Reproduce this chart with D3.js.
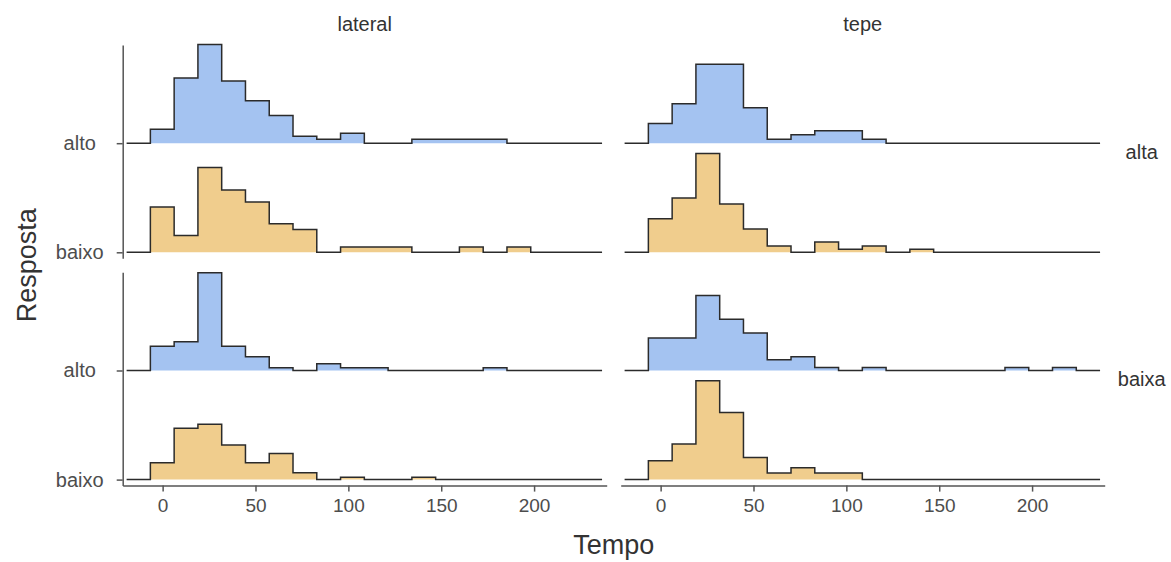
<!DOCTYPE html>
<html>
<head>
<meta charset="utf-8">
<script src="https://cdn.jsdelivr.net/npm/d3@7"></script>
<style>
  body { margin: 0; background: #fff; }
  text { font-family: "Liberation Sans", Arial, sans-serif; }
</style>
</head>
<body>
<div id="chart"></div>
<script>
  // facets and groups
  const colFacets = ["lateral", "tepe"];
  const rowFacets = ["alta", "baixa"];
  const respostas = ["baixo", "alto"];   // bottom to top inside a panel
  const xTicks = [0, 50, 100, 150, 200];

  // histogram bins (Tempo)
  const binStart = -6.6;
  const binWidth = 12.8;

  // relative bin heights (max = 1), 19 bins from binStart
  const lateralAltaAlto   = [0.14, 0.66, 1.00, 0.63, 0.43, 0.28, 0.07, 0.04, 0.10, 0, 0, 0.04, 0.04, 0.04, 0.04, 0, 0, 0, 0];
  const lateralAltaBaixo  = [0.46, 0.17, 0.86, 0.63, 0.51, 0.29, 0.23, 0, 0.054, 0.054, 0.054, 0, 0, 0.054, 0, 0.054, 0, 0, 0];
  const tepeAltaAlto      = [0.20, 0.40, 0.80, 0.80, 0.36, 0.04, 0.085, 0.125, 0.125, 0.04, 0, 0, 0, 0, 0, 0, 0, 0, 0];
  const tepeAltaBaixo     = [0.34, 0.55, 1.00, 0.49, 0.235, 0.065, 0, 0.105, 0.03, 0.065, 0, 0.03, 0, 0, 0, 0, 0, 0, 0];
  const lateralBaixaAlto  = [0.245, 0.29, 0.99, 0.245, 0.14, 0.028, 0, 0.068, 0.028, 0.028, 0, 0, 0, 0, 0.028, 0, 0, 0, 0];
  const lateralBaixaBaixo = [0.17, 0.52, 0.56, 0.35, 0.17, 0.265, 0.07, 0, 0.023, 0, 0, 0.023, 0, 0, 0, 0, 0, 0, 0];
  const tepeBaixaAlto     = [0.33, 0.33, 0.76, 0.52, 0.38, 0.11, 0.14, 0.03, 0, 0.03, 0, 0, 0, 0, 0, 0.03, 0, 0.03, 0];
  const tepeBaixaBaixo    = [0.19, 0.36, 1.00, 0.68, 0.225, 0.068, 0.12, 0.068, 0.068, 0, 0, 0, 0, 0, 0, 0, 0, 0, 0];

  const panels = {
    "lateral|alta":  { alto: lateralAltaAlto,  baixo: lateralAltaBaixo },
    "tepe|alta":     { alto: tepeAltaAlto,     baixo: tepeAltaBaixo },
    "lateral|baixa": { alto: lateralBaixaAlto, baixo: lateralBaixaBaixo },
    "tepe|baixa":    { alto: tepeBaixaAlto,    baixo: tepeBaixaBaixo }
  };

  const fills = { alto: "#a4c3f1", baixo: "#f0cd8d" };

  const W = 1171, H = 562;
  const panelLeft = 122.7, panelTop = 45;
  const pw = 484, ph = 213.3, gap = 14;
  const ridgeScale = 0.905;

  const svg = d3.select("#chart")
    .append("svg")
    .attr("width", W)
    .attr("height", H);

  const x = d3.scaleLinear().domain([-21.5, 239.1]).range([0, pw]);
  const y = d3.scaleLinear().domain([0.945, 2.90]).range([ph, 0]);
  const yPos = d3.scalePoint().domain(respostas).range([1, 2]);

  function stepPoints(h) {
    let pts = [[binStart - binWidth, 0], [binStart, 0]];
    h.forEach((v, i) => {
      pts.push([binStart + i * binWidth, v]);
      pts.push([binStart + (i + 1) * binWidth, v]);
    });
    return pts;
  }

  colFacets.forEach((cf, ci) => {
    rowFacets.forEach((rf, ri) => {
      const g = svg.append("g")
        .attr("transform", `translate(${panelLeft + ci * (pw + gap)},${panelTop + ri * (ph + gap)})`);
      const data = panels[cf + "|" + rf];

      // draw top ridge first so lower ridge sits over it
      ["alto", "baixo"].forEach(r => {
        const base = yPos(r);
        const pts = stepPoints(data[r]);
        const area = d3.area()
          .x(d => x(d[0]))
          .y0(y(base))
          .y1(d => y(base + d[1] * ridgeScale));
        const line = d3.line()
          .x(d => x(d[0]))
          .y(d => y(base + d[1] * ridgeScale));
        g.append("path")
          .attr("d", area(pts))
          .attr("fill", fills[r])
          .attr("stroke", "none");
        g.append("path")
          .attr("d", line(pts))
          .attr("fill", "none")
          .attr("stroke", "#2b2b2b")
          .attr("stroke-width", 1.5);
      });

      // y axis on left column
      if (ci === 0) {
        const ya = g.append("g")
          .call(d3.axisLeft(y).tickValues([1, 2]).tickFormat(d => respostas[d - 1]).tickSize(6).tickSizeOuter(0));
        ya.select(".domain").attr("stroke", "#555").attr("stroke-width", 1.5);
        ya.selectAll(".tick line").attr("stroke", "#555").attr("stroke-width", 1.5);
        ya.selectAll(".tick text")
          .attr("x", -43)
          .attr("text-anchor", "middle")
          .attr("fill", "#4d4d4d")
          .style("font-size", "20px");
      }

      // x axis on bottom row
      if (ri === rowFacets.length - 1) {
        const xa = g.append("g")
          .attr("transform", `translate(0,${ph})`)
          .call(d3.axisBottom(x).tickValues(xTicks).tickSize(6).tickSizeOuter(0));
        xa.select(".domain").attr("stroke", "#555").attr("stroke-width", 1.5);
        xa.selectAll(".tick line").attr("stroke", "#555").attr("stroke-width", 1.5);
        xa.selectAll(".tick text")
          .attr("y", 13)
          .attr("fill", "#4d4d4d")
          .style("font-size", "19px");
      }

      // strip labels
      if (ri === 0) {
        g.append("text")
          .attr("x", pw / 2)
          .attr("y", -14)
          .attr("text-anchor", "middle")
          .attr("fill", "#333")
          .style("font-size", "20px")
          .text(cf);
      }
      if (ci === colFacets.length - 1) {
        g.append("text")
          .attr("x", pw + 37)
          .attr("y", ph / 2 + 7)
          .attr("text-anchor", "middle")
          .attr("fill", "#333")
          .style("font-size", "20px")
          .text(rf);
      }
    });
  });

  // axis titles
  svg.append("text")
    .attr("x", panelLeft + pw + gap / 2)
    .attr("y", 554)
    .attr("text-anchor", "middle")
    .attr("fill", "#333")
    .style("font-size", "27px")
    .text("Tempo");

  svg.append("text")
    .attr("transform", `translate(36,${panelTop + ph + gap / 2}) rotate(-90)`)
    .attr("text-anchor", "middle")
    .attr("fill", "#333")
    .style("font-size", "27px")
    .text("Resposta");
</script>
</body>
</html>
